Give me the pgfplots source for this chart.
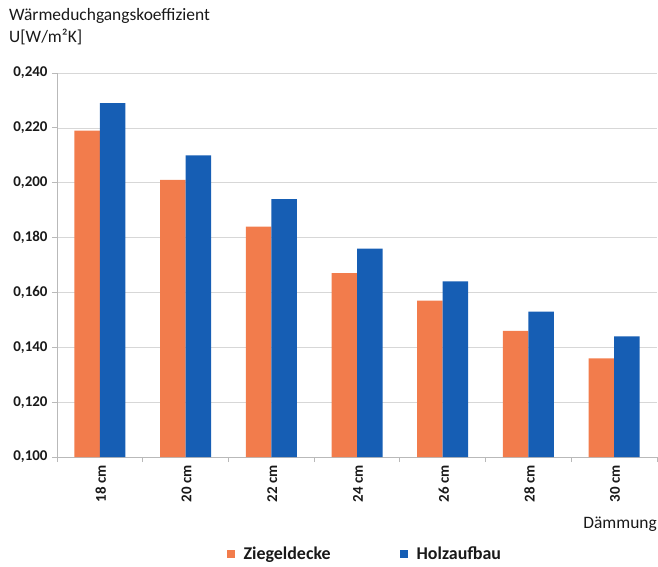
\documentclass[border=0pt]{standalone}
\usepackage{fontspec}
\setmainfont{Carlito}
\usepackage{pgfplots}
\pgfplotsset{compat=1.18}
\definecolor{orz}{RGB}{242,124,76}
\definecolor{blz}{RGB}{22,94,180}
\definecolor{gridc}{RGB}{215,215,215}
\definecolor{axc}{RGB}{185,185,185}
\definecolor{txt}{RGB}{25,25,25}
\begin{document}
\begin{tikzpicture}
\path[use as bounding box] (-57bp,-110bp) rectangle (601bp,457bp);
\begin{axis}[
  at={(0bp,0bp)}, anchor=south west,
  scale only axis, width=600bp, height=384bp,
  xmin=-0.5, xmax=6.5, ymin=0.1, ymax=0.24,
  ybar=0pt, bar width=25.5bp,
  axis lines*=left,
  axis line style={draw=axc, line width=0.8bp},
  ytick={0.1,0.12,0.14,0.16,0.18,0.2,0.22,0.24},
  ymajorgrids, grid style={draw=gridc, line width=0.7bp},
  xtick={0,1,2,3,4,5,6},
  xticklabels={18 cm,20 cm,22 cm,24 cm,26 cm,28 cm,30 cm},
  minor xtick={-0.5,0.5,1.5,2.5,3.5,4.5,5.5,6.5},
  tick align=outside,
  major x tick style={draw=none},
  xtick pos=bottom, ytick pos=left,
  major tick length=5bp, minor tick length=5bp,
  tick style={draw=axc, line width=0.8bp},
  /pgf/number format/assume math mode=true,
  yticklabel style={/pgf/number format/.cd, fixed, fixed zerofill, precision=3, use comma, /tikz/.cd, font=\bfseries\fontsize{15}{15}\selectfont, text=txt, xshift=-1bp},
  xticklabel style={rotate=90, anchor=east, font=\bfseries\fontsize{15}{15}\selectfont, text=txt, yshift=-1bp},
  legend style={at={(0.513,-0.2526)}, anchor=center, draw=none, fill=none, legend columns=2,
    /tikz/every even column/.append style={column sep=67bp},
    font=\bfseries\fontsize{18}{18}\selectfont, text=txt},
]
\addplot[fill=orz, draw=none, legend image code/.code={\fill[orz] (0bp,-4bp) rectangle (8bp,4bp); \path (15bp,0bp);}]
  coordinates {(0,0.219) (1,0.201) (2,0.184) (3,0.167) (4,0.157) (5,0.146) (6,0.136)};
\addplot[fill=blz, draw=none, legend image code/.code={\fill[blz] (0bp,-4bp) rectangle (8bp,4bp); \path (15bp,0bp);}]
  coordinates {(0,0.229) (1,0.210) (2,0.194) (3,0.176) (4,0.164) (5,0.153) (6,0.144)};
\legend{Ziegeldecke,Holzaufbau}
\end{axis}
\node[anchor=base west, inner sep=0pt, text=txt, font=\fontsize{17.5}{17.5}\selectfont] at (-48bp,436bp) {Wärmeduchgangskoeffizient};
\node[anchor=base west, inner sep=0pt, text=txt, font=\fontsize{17.5}{17.5}\selectfont] at (-48bp,414bp) {U[W/m²K]};
\node[anchor=base east, inner sep=0pt, text=txt, font=\fontsize{17.5}{17.5}\selectfont] at (600bp,-71bp) {Dämmung};
\end{tikzpicture}
\end{document}
